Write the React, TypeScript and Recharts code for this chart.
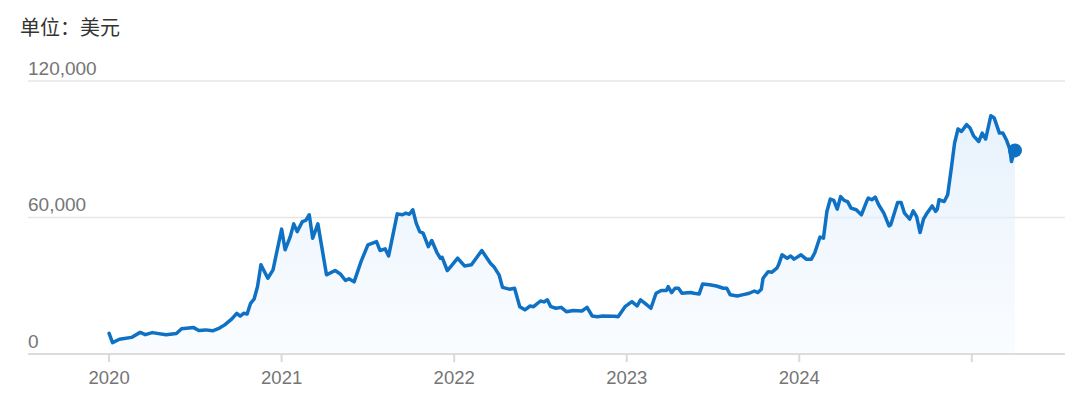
import { Area, AreaChart, CartesianGrid, ReferenceDot, XAxis, YAxis } from 'recharts';

// Weekly-ish samples. Time is in fractional years.
const TIMES = [
  2020.0, 2020.02, 2020.06, 2020.13, 2020.18, 2020.21, 2020.25, 2020.33, 2020.39, 2020.42,
  2020.49, 2020.52, 2020.56, 2020.6, 2020.64, 2020.67, 2020.71, 2020.74, 2020.76, 2020.78,
  2020.8, 2020.82, 2020.84, 2020.86, 2020.88, 2020.92, 2020.95, 2021.0, 2021.02, 2021.05,
  2021.07, 2021.09, 2021.12, 2021.14, 2021.16, 2021.18, 2021.21, 2021.26, 2021.31, 2021.34,
  2021.37, 2021.39, 2021.42, 2021.46, 2021.5, 2021.55, 2021.57, 2021.6, 2021.62, 2021.67,
  2021.7, 2021.72, 2021.74, 2021.76, 2021.78, 2021.8, 2021.82, 2021.85, 2021.87, 2021.9,
  2021.92, 2021.93, 2021.96, 2021.98, 2022.02, 2022.06, 2022.1, 2022.16, 2022.21, 2022.23,
  2022.26, 2022.28, 2022.32, 2022.35, 2022.38, 2022.41, 2022.44, 2022.46, 2022.5, 2022.52,
  2022.54, 2022.56, 2022.59, 2022.62, 2022.65, 2022.69, 2022.74, 2022.77, 2022.8, 2022.83,
  2022.86, 2022.93, 2022.95, 2022.99, 2023.03, 2023.06, 2023.08, 2023.11, 2023.14, 2023.17,
  2023.2, 2023.23, 2023.24, 2023.26, 2023.28, 2023.3, 2023.32, 2023.37, 2023.39, 2023.42,
  2023.44, 2023.48, 2023.52, 2023.56, 2023.58, 2023.6, 2023.64, 2023.67, 2023.71, 2023.74,
  2023.76, 2023.78, 2023.79, 2023.82, 2023.84, 2023.87, 2023.88, 2023.9, 2023.93, 2023.95,
  2023.97, 2024.01, 2024.04, 2024.07, 2024.09, 2024.12, 2024.14, 2024.16, 2024.18, 2024.2,
  2024.22, 2024.24, 2024.26, 2024.28, 2024.3, 2024.33, 2024.36, 2024.39, 2024.4, 2024.42,
  2024.44, 2024.46, 2024.49, 2024.52, 2024.53, 2024.57, 2024.59, 2024.61, 2024.64, 2024.66,
  2024.68, 2024.7, 2024.72, 2024.74, 2024.77, 2024.79, 2024.8, 2024.81, 2024.84, 2024.86,
  2024.88, 2024.9, 2024.92, 2024.94, 2024.97, 2024.99, 2025.01, 2025.04, 2025.06, 2025.08,
  2025.11, 2025.13, 2025.16, 2025.18, 2025.2, 2025.22, 2025.23, 2025.24, 2025.25,
];

const PRICES = [
  9100, 5000, 6500, 7300, 9500, 8500, 9400, 8500, 9000, 11100,
  11600, 10300, 10600, 10200, 11400, 12800, 15300, 17900, 16700, 17900,
  17600, 22300, 24100, 29600, 39200, 33300, 37000, 54900, 45800, 51600,
  57200, 53800, 58200, 58700, 61200, 50900, 57200, 34800, 36700, 35200,
  32300, 33100, 31700, 40600, 48000, 49400, 45500, 46200, 43100, 61600,
  61200, 61900, 61400, 63400, 57500, 53800, 53100, 47200, 49900, 44600,
  42100, 42500, 36700, 38400, 42100, 38700, 39200, 45500, 39900, 38400,
  34800, 29300, 28500, 28900, 20800, 19400, 21100, 20800, 23300, 22900,
  23800, 20800, 20100, 20500, 18600, 19100, 18900, 20500, 16700, 16400,
  16700, 16600, 16400, 20800, 23000, 21100, 23800, 22000, 20100, 26700,
  27900, 27900, 29600, 27000, 28900, 28900, 26700, 27000, 26700, 26400,
  30800, 30400, 29900, 28900, 28900, 26000, 25500, 26000, 26700, 27700,
  27000, 28500, 33300, 36200, 35900, 37700, 39200, 43600, 42100, 43100,
  41700, 43600, 41700, 41700, 44500, 51400, 50900, 62600, 68100, 67500,
  63700, 69200, 67500, 67000, 64100, 63400, 61200, 67000, 68500, 67800,
  69000, 65600, 61900, 56300, 56800, 66600, 66600, 61900, 59300, 62900,
  60400, 53400, 59300, 61900, 65100, 62700, 63700, 67800, 67000, 70000,
  81000, 92700, 98900, 97800, 100800, 99300, 95900, 93400, 97100, 94500,
  104700, 103700, 97100, 97100, 94200, 90100, 84600, 87600, 89500,
];

const YEAR_TICKS = [2020, 2021, 2022, 2023, 2024, 2025];
const YEAR_LABELS = ['2020', '2021', '2022', '2023', '2024', ''];
const PRICE_TICKS = [0, 60000, 120000];
const UNIT_LABEL = '单位：美元';

const BLUE = '#0f71c3';
const PLOT_LEFT = 28;
const FONT = '"Liberation Sans", Arial, sans-serif';

const rows = TIMES.map((t, i) => ({ t, price: PRICES[i] }));
const last = rows[rows.length - 1];

function renderPriceTick(props: any) {
  const { y, payload, index } = props;
  return (
    <text
      key={`ytick-${index}`}
      x={PLOT_LEFT}
      y={y - 13}
      fill="#757575"
      fontSize={19}
      fontFamily={FONT}
      textAnchor="start"
      dominantBaseline="central"
    >
      {Number(payload.value).toLocaleString('en-US')}
    </text>
  );
}

export default function App() {
  return (
    <div style={{ position: 'relative', width: 1080, height: 405, margin: -8, background: '#fff' }}>
      <div
        style={{
          position: 'absolute',
          left: 20,
          top: 13,
          fontSize: 20,
          lineHeight: '28px',
          color: '#333',
          fontFamily: '"Noto Sans CJK SC", sans-serif',
        }}
      >
        {UNIT_LABEL}
      </div>
      <AreaChart
        width={1080}
        height={405}
        data={rows}
        margin={{ top: 81, right: 15, bottom: 21, left: PLOT_LEFT - 1 }}
      >
        <defs>
          <linearGradient id="btcFill" x1="0" y1="0" x2="0" y2="1">
            <stop offset="0%" stopColor="#d5e8fa" stopOpacity={0.95} />
            <stop offset="100%" stopColor="#f6faff" stopOpacity={0.9} />
          </linearGradient>
        </defs>
        <CartesianGrid vertical={false} stroke="#e6e6e6" strokeWidth={1.5} />
        <XAxis
          dataKey="t"
          type="number"
          domain={[2019.53, 2025.54]}
          ticks={YEAR_TICKS}
          tickFormatter={(v: number) => YEAR_LABELS[YEAR_TICKS.indexOf(v)] ?? ''}
          height={30}
          axisLine={{ stroke: '#dcdcdc', strokeWidth: 2 }}
          tickLine={{ stroke: '#d9d9d9', strokeWidth: 2 }}
          tickSize={8}
          tickMargin={9}
          tick={{ fill: '#757575', fontSize: 18.5, fontFamily: FONT }}
          interval={0}
        />
        <YAxis
          type="number"
          domain={[0, 120000]}
          ticks={PRICE_TICKS}
          interval={0}
          width={1}
          axisLine={false}
          tickLine={false}
          tick={renderPriceTick}
        />
        <Area
          type="linear"
          dataKey="price"
          stroke={BLUE}
          strokeWidth={3.5}
          strokeLinejoin="round"
          strokeLinecap="round"
          fill="url(#btcFill)"
          dot={false}
          activeDot={false}
          isAnimationActive={false}
        />
        <ReferenceDot x={last.t} y={last.price} r={7} fill={BLUE} stroke="none" />
      </AreaChart>
    </div>
  );
}
